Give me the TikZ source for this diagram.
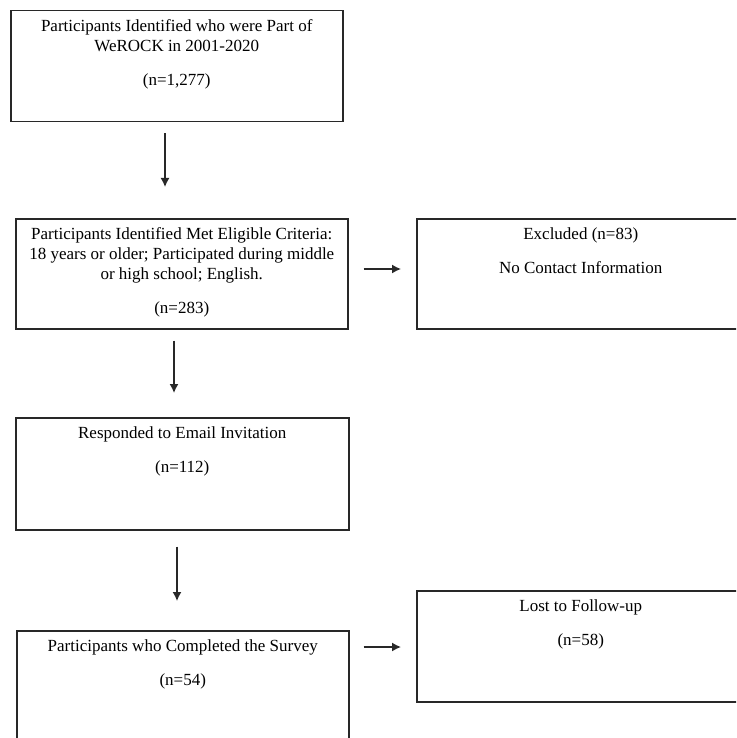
\documentclass[tikz,border=0pt]{standalone}
\usepackage{xcolor}
\usepackage{fontspec}
\setmainfont{Liberation Serif}
\usetikzlibrary{arrows.meta}
\definecolor{boxline}{RGB}{40,40,40}
\tikzstyle{stage}=[draw=boxline, line width=1.5pt, inner sep=0pt, anchor=north west, font=\fontsize{17}{20}\selectfont]
\tikzset{flow/.style={-{Latex[length=9pt,width=9pt]}, line width=1.4pt, color=boxline}}
\newcommand{\stagetext}[3]{\parbox[c][#2][t]{#1}{\centering\vspace*{7pt}\strut #3}}

\begin{document}
\begin{tikzpicture}[x=1pt,y=-1pt]
  \useasboundingbox (0,0) rectangle (736,738);
  \clip (0,0) rectangle (736,738);

  %% Stages
  \draw (10,10) node[stage] (P1) {\stagetext{332pt}{111pt}{Participants Identified who were Part of\\ WeROCK in 2001-2020\\[14pt] (n=1,277)}};
  \draw (15,218) node[stage] (P2) {\stagetext{332pt}{110pt}{Participants Identified Met Eligible Criteria:\\ 18 years or older; Participated during middle\\ or high school; English.\\[14pt] (n=283)}};
  \draw (15,417) node[stage] (P3) {\stagetext{333pt}{112pt}{Responded to Email Invitation\\[14pt] (n=112)}};
  \draw (16,630) node[stage] (P4) {\stagetext{332pt}{130pt}{Participants who Completed the Survey\\[14pt] (n=54)}};

  %% Drop outs
  \draw (416,218) node[stage] (E) {\stagetext{328pt}{110pt}{Excluded (n=83)\\[14pt] No Contact Information}};
  \draw (416,590) node[stage] (L) {\stagetext{328pt}{111pt}{Lost to Follow-up\\[14pt] (n=58)}};

  \draw[flow, shorten <=11pt, shorten >=31pt] (P1.south -| 165,0) -- (P2.north -| 165,0);
  \draw[flow, shorten <=11pt, shorten >=24pt] (P2.south -| 174,0) -- (P3.north -| 174,0);
  \draw[flow, shorten <=16pt, shorten >=29pt] (P3.south -| 177,0) -- (P4.north -| 177,0);

  \draw[flow, shorten <=15pt, shorten >=15pt] (P2.east |- 0,269) -- (E.west |- 0,269);
  \draw[flow, shorten <=14pt, shorten >=15pt] (P4.east |- 0,647) -- (L.west |- 0,647);
\end{tikzpicture}
\end{document}
